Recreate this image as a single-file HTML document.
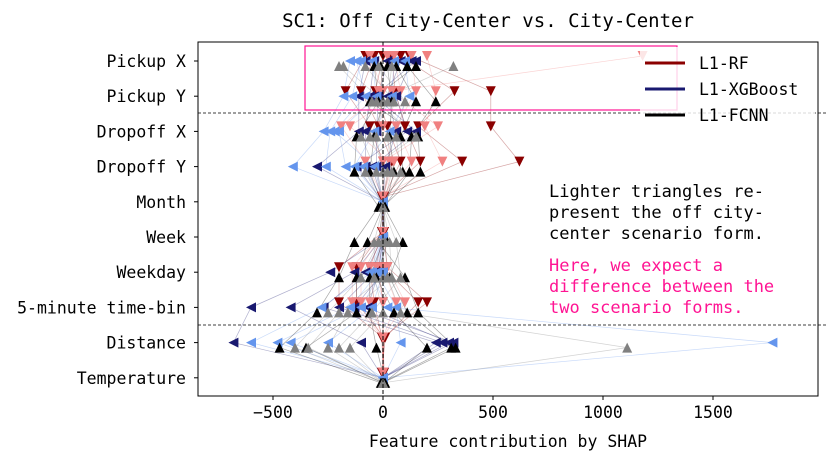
<!DOCTYPE html>
<html><head><meta charset="utf-8"><style>
body{margin:0;background:#fff}
svg text{font-family:"DejaVu Sans Mono","Liberation Mono",monospace;fill:#000}
</style></head><body>
<svg id="c" width="830" height="465" xmlns="http://www.w3.org/2000/svg">
<rect x="0" y="0" width="830" height="465" fill="#fff"/>
<text x="488" y="27" font-size="19" text-anchor="middle">SC1: Off City-Center vs. City-Center</text>
<g id="marks"></g>
<g id="ax"></g>
<text x="508" y="447" font-size="16.5" text-anchor="middle">Feature contribution by SHAP</text>
</svg>
<script>
const features=["Pickup X","Pickup Y","Dropoff X","Dropoff Y","Month","Week","Weekday","5-minute time-bin","Distance","Temperature"];
const xTicks=[-500,0,500,1000,1500];
const rfCity=[[-80,-40,0,40,80,120],[-170,-100,-35,55,325,490],[-60,-20,20,100,160,490],[0,40,80,170,360,620],[0,0,5,0,-5,0],[0,-5,0,5,0,0],[-200,-120,-60,-20,0,20],[-200,-120,-40,0,160,200],[0,5,-5,0,10,0],[0,0,0,5,-5,0]];
const rfOff=[[-60,50,130,200,1180,20],[0,80,150,240,40,-20],[-190,-150,60,190,250,0],[-80,30,130,270,0,50],[0,0,0,0,0,0],[0,0,0,0,0,0],[-140,-60,-30,0,20,-100],[-140,-60,0,60,100,-100],[0,0,0,0,0,0],[0,0,0,0,0,0]];
const xgbCity=[[-80,-40,20,80,130,150],[-110,-60,-20,20,60,-40],[-110,-80,-30,60,110,150],[-300,-80,-30,10,-120,-50],[0,0,0,0,0,0],[0,0,0,0,0,0],[-240,-130,-80,-40,-20,0],[-600,-420,-270,-200,-70,-130],[-680,-100,240,270,300,320],[0,0,0,0,0,0]];
const xgbOff=[[-150,-100,-50,50,100,-120],[-180,-140,-30,40,120,-80],[-270,-240,-200,-40,30,-220],[-410,-260,-170,-130,-90,-40],[0,0,0,0,0,0],[0,0,0,0,0,0],[-50,-20,-10,0,-30,-60],[-280,-150,-100,-50,60,20],[-600,-480,-420,-250,80,1770],[0,0,0,0,0,0]];
const nnCity=[[-40,-10,20,60,110,150],[-20,0,40,150,240,-60],[-120,-40,30,80,130,160],[-130,-60,50,90,120,170],[-20,0,10,-10,5,0],[-130,-70,0,20,90,-20],[-200,-120,-60,-30,30,100],[-300,-120,-60,50,110,160],[-470,-350,-30,200,310,330],[-10,0,10,5,-5,0]];
const nnOff=[[-200,-180,-80,-20,320,40],[-50,0,50,100,-30,20],[-100,-30,20,60,150,-60],[-30,0,40,80,-80,20],[0,0,0,0,0,0],[-20,0,30,60,-40,10],[-100,0,40,80,-40,20],[-250,-200,-160,-50,0,80],[-400,-340,-250,-200,-150,1110],[0,0,0,0,0,0]];

const L=198,R=818,T=42,B=396;
const X=v=>383+v*0.22;
const Y=i=>61+i*35.2;
const NS="http://www.w3.org/2000/svg";
function mk(tag,attrs,parent){const e=document.createElementNS(NS,tag);for(const k in attrs)e.setAttribute(k,attrs[k]);parent.appendChild(e);return e;}
const marks=document.getElementById('marks'),ax=document.getElementById('ax');
const series=[
 {d:rfCity,c:"#8b0000",dy:-5,shape:"down",n:"rf-city"},
 {d:rfOff,c:"#f08080",dy:-5,shape:"down",n:"rf-off-center"},
 {d:xgbCity,c:"#191970",dy:0,shape:"left",n:"xgb-city"},
 {d:xgbOff,c:"#6495ed",dy:0,shape:"left",n:"xgb-off-center"},
 {d:nnCity,c:"#000000",dy:5,shape:"up",n:"fcnn-city"},
 {d:nnOff,c:"#808080",dy:5,shape:"up",n:"fcnn-off-center"}];
series.forEach(s=>{
 for(let f=0;f<s.d.length-1;f++)for(let k=0;k<s.d[f].length;k++){
  const ln=mk('line',{x1:X(s.d[f][k]),y1:Y(f)+s.dy,x2:X(s.d[f+1][k]),y2:Y(f+1)+s.dy,stroke:s.c,'stroke-width':0.7,'stroke-opacity':0.35},marks);
  
  
 }});
function tri(x,y,shape){const h=5;
 if(shape=="down")return `${x-h},${y-h} ${x+h},${y-h} ${x},${y+h}`;
 if(shape=="up")return `${x-h},${y+h} ${x+h},${y+h} ${x},${y-h}`;
 return `${x+h},${y-h} ${x+h},${y+h} ${x-h},${y}`;}
series.forEach(s=>{
 s.d.forEach((row,f)=>row.forEach(v=>{
  const p=mk('polygon',{points:tri(X(v),Y(f)+s.dy,s.shape),fill:s.c},marks);
  
  
 }));});
const vl=mk('line',{x1:383,y1:T,x2:383,y2:B,stroke:"#000","stroke-dasharray":"4,2","stroke-width":1},ax);

[113,325].forEach(y=>{const h=mk('line',{x1:L,y1:y,x2:R+10,y2:y,stroke:"#000","stroke-dasharray":"3,2","stroke-width":0.8},ax);
 });
const pb=mk('rect',{x:305,y:46,width:372,height:64,fill:"none",stroke:"#ff1493","stroke-width":1.2},ax);

const fr=mk('rect',{x:L,y:T,width:R-L,height:B-T,fill:"none",stroke:"#000","stroke-width":1},ax);

xTicks.forEach(t=>{mk('line',{x1:X(t),y1:B,x2:X(t),y2:B+4,stroke:"#000"},ax);
 const tx=mk('text',{x:X(t),y:B+22,'font-size':16.5,'text-anchor':'middle'},ax);tx.textContent=t<0?"\u2212"+(-t):t;
 });
features.forEach((f,i)=>{mk('line',{x1:L-4,y1:Y(i),x2:L,y2:Y(i),stroke:"#000"},ax);
 const tx=mk('text',{x:186,y:Y(i)+6,'font-size':16.5,'text-anchor':'end'},ax);tx.textContent=f;
 });
const lg=mk('g',{},ax);
mk('rect',{x:640,y:47,width:175,height:78,fill:"#fff","fill-opacity":0.8},lg);
[["L1-RF","#8b0000"],["L1-XGBoost","#191970"],["L1-FCNN","#000"]].forEach((e,i)=>{
 const y=63+i*26;
 const ln=mk('line',{x1:645,y1:y,x2:685,y2:y,stroke:e[1],"stroke-width":3},lg);
 
 const t=mk('text',{x:699,y:y+6,'font-size':16.5},lg);t.textContent=e[0];
 });
[["Lighter triangles re-",197,"#000"],["present the off city-",218,"#000"],["center scenario form.",239,"#000"],
 ["Here, we expect a",271,"#ff1493"],["difference between the",292,"#ff1493"],["two scenario forms.",313,"#ff1493"]].forEach(a=>{
 const t=mk('text',{x:549,y:a[1],'font-size':17},ax);t.textContent=a[0];t.style.fill=a[2];
 });
</script>
</body></html>
